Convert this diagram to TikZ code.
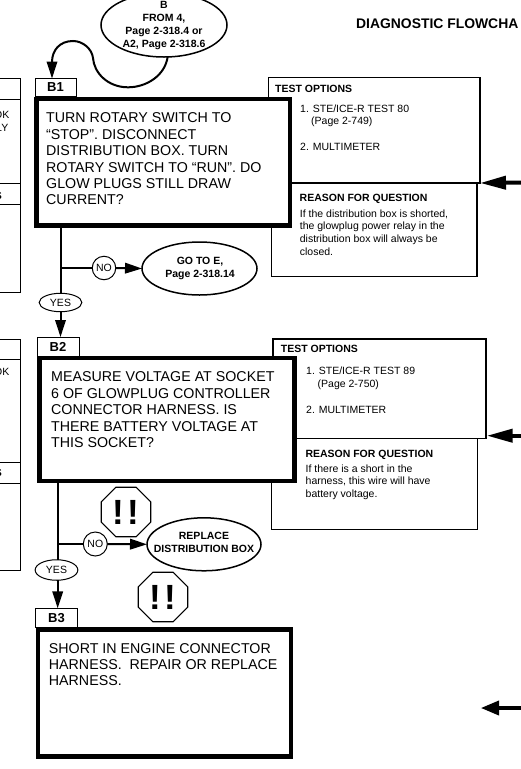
\documentclass[tikz,border=0pt]{standalone}
\usepackage{fontspec}
\setmainfont{Liberation Sans}
\usetikzlibrary{arrows.meta,shapes.geometric}
\tikzset{
  mainbox/.style={draw=black,fill=white,line width=4.5pt,rectangle,inner sep=0pt,outer sep=0pt},
  labelbox/.style={draw=black,fill=white,line width=1pt,rectangle,inner sep=0pt,outer sep=0pt,font=\fontsize{13}{15}\selectfont\bfseries},
  testbox/.style={draw=black,fill=white,line width=1.8pt,rectangle,inner sep=0pt,outer sep=0pt},
  reasonbox/.style={draw=black,fill=white,line width=1.1pt,rectangle,inner sep=0pt,outer sep=0pt},
  oval/.style={draw=black,fill=white,line width=1.5pt,ellipse,inner sep=0pt,outer sep=0pt},
  tag/.style={draw=black,fill=white,line width=1pt,ellipse,inner sep=0pt,outer sep=0pt,font=\fontsize{10.5}{12}\selectfont},
  octa/.style={draw=black,fill=white,line width=1.2pt,regular polygon,regular polygon sides=8,minimum size=53.4pt,inner sep=0pt,outer sep=0pt,font=\fontsize{35}{35}\selectfont\bfseries},
  maintext/.style={anchor=north west,inner sep=0pt,align=left,font=\fontsize{14.25}{16.35}\selectfont},
  small/.style={anchor=north west,inner sep=0pt,align=left,font=\fontsize{10.5}{12.8}\selectfont},
  smallb/.style={anchor=north west,inner sep=0pt,align=left,font=\fontsize{10.5}{12.8}\selectfont\bfseries},
  ovaltext/.style={anchor=center,inner sep=0pt,align=center,font=\fontsize{10.5}{13.0}\selectfont\bfseries},
  conn/.style={draw=black,line width=2pt},
  flow/.style={conn,-{Triangle[length=17pt,width=10.5pt]}},
  bigA/.style={draw=black,line width=4pt,-{Triangle[length=26pt,width=13pt]}},
  bigB/.style={draw=black,line width=4pt,-{Triangle[length=18.5pt,width=14pt]}},
  sidebox/.style={draw=black,line width=1pt}
}
\begin{document}
\begin{tikzpicture}[x=1pt,y=-1pt]
\useasboundingbox (0,0) rectangle (521,769);
\clip (0,0) rectangle (521,769);
% title
\node[smallb,font=\fontsize{13.9}{16}\selectfont\bfseries] (title) at (356,19) {DIAGNOSTIC FLOWCHA};
% left cut-off boxes
\draw[sidebox] (-5,78) -- (20,78) -- (20,292.5) -- (-5,292.5);
\draw[sidebox] (-5,99) -- (20,99);
\draw[sidebox] (-5,183.5) -- (20,183.5);
\draw[sidebox] (-5,204.5) -- (20,204.5);
\draw[sidebox] (-5,339) -- (20,339) -- (20,570.7) -- (-5,570.7);
\draw[sidebox] (-5,359.3) -- (20,359.3);
\draw[sidebox] (-5,462.7) -- (20,462.7);
\draw[sidebox] (-5,483.7) -- (20,483.7);
\node[small,anchor=north east] (l1) at (9.5,111) {OK};
\node[small,anchor=north east] (l2) at (8.5,124) {LY};
\node[smallb,anchor=north east] (l3) at (2,192) {S};
\node[small,anchor=north east] (l4) at (9.5,368) {OK};
\node[smallb,anchor=north east] (l5) at (2,469) {S};
% side boxes B1
\node[reasonbox,minimum width=205.5pt,minimum height=93.7pt] (reason1) at (374.25,230) {};
\node[testbox,minimum width=211.5pt,minimum height=105.5pt] (test1) at (374.25,130.25) {};
\node[smallb] (t1h) at (275,84.5) {TEST OPTIONS};
\node[small] (t1a) at (300,104.2) {1. STE/ICE-R TEST 80};
\node[small] (t1b) at (311,116.6) {(Page 2-749)};
\node[small] (t1c) at (300,142.5) {2. MULTIMETER};
\node[smallb] (r1h) at (299.5,193.5) {REASON FOR QUESTION};
\node[small] (r1t) at (299.7,209.2) {If the distribution box is shorted,\\the glowplug power relay in the\\distribution box will always be\\closed.};
% side boxes B2
\node[reasonbox,minimum width=206pt,minimum height=90.5pt] (reason2) at (374.3,484) {};
\node[testbox,minimum width=212.4pt,minimum height=99.5pt] (test2) at (379.5,388.75) {};
\node[smallb] (t2h) at (280.7,345.2) {TEST OPTIONS};
\node[small] (t2a) at (306,366.5) {1. STE/ICE-R TEST 89};
\node[small] (t2b) at (317.5,379.8) {(Page 2-750)};
\node[small] (t2c) at (306,405.8) {2. MULTIMETER};
\node[smallb] (r2h) at (305.3,449.8) {REASON FOR QUESTION};
\node[small] (r2t) at (305.5,464.2) {If there is a short in the\\harness, this wire will have\\battery voltage.};
% main boxes
\node[mainbox,minimum width=253.3pt,minimum height=126.6pt] (b1) at (163.35,162.2) {};
\node[mainbox,minimum width=255.3pt,minimum height=123pt] (b2) at (166.95,419.5) {};
\node[mainbox,minimum width=253.2pt,minimum height=126.6pt] (b3) at (164.4,693) {};
\node[labelbox,minimum width=41pt,minimum height=18.5pt] (b1l) at (55.5,87.5) {B1};
\node[labelbox,minimum width=42pt,minimum height=19pt] (b2l) at (58,346.5) {B2};
\node[labelbox,minimum width=41.5pt,minimum height=18.7pt] (b3l) at (56.5,617.7) {B3};
\node[maintext] (b1t) at (46,112.8) {TURN ROTARY SWITCH TO\\“STOP”. DISCONNECT\\DISTRIBUTION BOX. TURN\\ROTARY SWITCH TO “RUN”. DO\\GLOW PLUGS STILL DRAW\\CURRENT?};
\node[maintext] (b2t) at (51,371.8) {MEASURE VOLTAGE AT SOCKET\\6 OF GLOWPLUG CONTROLLER\\CONNECTOR HARNESS. IS\\THERE BATTERY VOLTAGE AT\\THIS SOCKET?};
\node[maintext] (b3t) at (48.7,643.1) {SHORT IN ENGINE CONNECTOR\\HARNESS.\ \ REPAIR OR REPLACE\\HARNESS.};
% ovals
\node[oval,minimum width=126pt,minimum height=64pt] (fromb) at (164,25) {};
\node[ovaltext] (frombt) at (164,25.2) {B\\FROM 4,\\Page 2-318.4 or\\A2, Page 2-318.6};
\node[oval,minimum width=115pt,minimum height=53pt] (goe) at (199.5,268.5) {};
\node[ovaltext] (goet) at (200,268.7) {GO TO E,\\Page 2-318.14};
\node[oval,minimum width=114pt,minimum height=53pt] (repl) at (204,544.3) {};
\node[ovaltext] (replt) at (204,542) {REPLACE\\DISTRIBUTION BOX};
% tags
\node[tag,minimum width=42.7pt,minimum height=18.4pt] (yes1) at (60.5,302.5) {YES};
\node[tag,minimum width=23.5pt,minimum height=23.5pt] (no1) at (104,268) {NO};
\node[tag,minimum width=42.7pt,minimum height=20.5pt] (yes2) at (56.5,570) {YES};
\node[tag,minimum width=24pt,minimum height=24pt] (no2) at (95.3,544) {NO};
% octagons
\node[octa] (oct1) at (126,512) {!\kern3.5pt!};
\node[octa] (oct2) at (163,597) {!\kern3.5pt!};
% connectors
\coordinate (c1) at (128,87.3);
\coordinate (c2) at (93,58);
\coordinate (c3) at (73,41);
\coordinate (c4) at (167.7,56.6);
\coordinate (b1in) at (52,78.5);
\coordinate (t2) at (57.7,570);
\draw[flow] (c4) .. controls (165,76) and (146,87.3) .. (c1)
  .. controls (108,87.3) and (94,73) .. (c2)
  .. controls (92,49) and (83,41) .. (c3)
  .. controls (60,41) and (52,50) .. (b1in);
\draw[conn] (b1.south -| yes1) -- (yes1.north);
\draw[flow] (yes1.south) -- (yes1 |- b2l.north);
\draw[conn] (yes1 |- no1) -- (no1.west);
\draw[flow] (no1.east) -- (goe.west);
\draw[conn] (b2.south -| t2) -- (t2 |- yes2.north);
\draw[flow] (t2 |- yes2.south) -- (t2 |- b3l.north);
\draw[conn] (t2 |- no2) -- (no2.west);
\draw[flow] (no2.east) -- (repl.west);
\coordinate (in1) at (522,182.5);
\coordinate (in2) at (522,435.7);
\coordinate (in2e) at (486.7,435.7);
\coordinate (in3) at (522,708);
\coordinate (in3e) at (480.7,708);
\draw[bigA] (in1) -- (test1.south east);
\draw[bigA] (in2) -- (in2e);
\draw[bigB] (in3) -- (in3e);
\end{tikzpicture}
\end{document}
